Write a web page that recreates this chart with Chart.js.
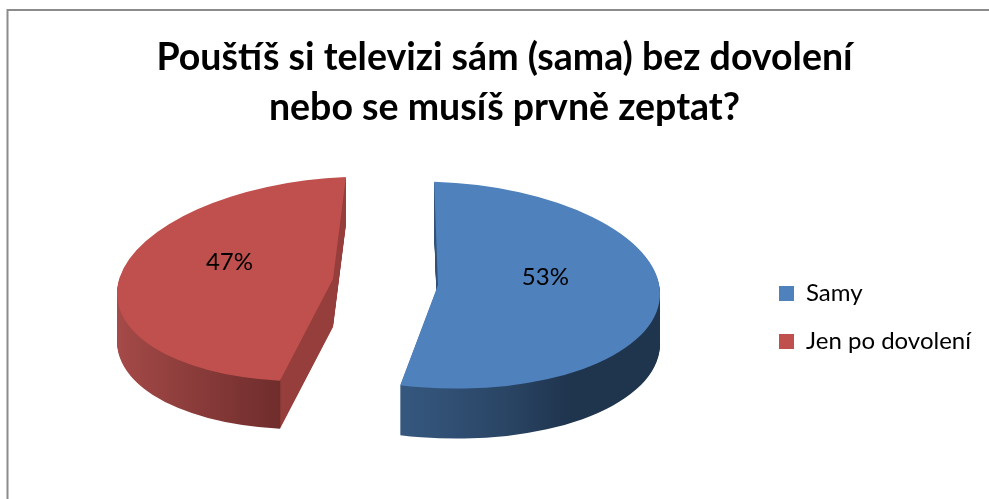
<!DOCTYPE html>
<html>
<head>
<meta charset="utf-8">
<style>
  html, body { margin: 0; padding: 0; background: #fff; overflow: hidden; }
  canvas { display: block; }
</style>
<script src="https://cdn.jsdelivr.net/npm/chart.js@4"></script>
</head>
<body>
<canvas id="pie" width="989" height="499"></canvas>
<script>
const categories = ['Samy', 'Jen po dovolení'];
const values = [53, 47];
const titleLines = ['Pouštíš si televizi sám (sama) bez dovolení', 'nebo se musíš prvně zeptat?'];
const topColors = ['#4f81bd', '#c0504d'];
// wall shading along x, relative to the chart centre, as a fraction of the radius
const wallStops = [
  [[-0.17, '#36587f'], [0.3, '#2a4565'], [0.6, '#1f344d'], [1, '#1f344d']],
  [[-1, '#a64b49'], [-0.171, '#6f2d2c'], [-0.168, '#953e3c'], [1, '#953e3c']]
];

// fake 3D: each slice gets its own tilt and is pushed away from the pie centre
const pieX = 387, pieY = 281;
const tilts = [
  { a: 1, b: 0.04, c: 0, d: 0.465, moveX: 51, moveY: 4, depth: 50 },
  { a: 0.97, b: -0.03, c: -0.075, d: 0.46, moveX: -54, moveY: -2, depth: 48 }
];
const legendShiftX = -8, legendShiftY = 68;
const labelLift = 16, labelPos = 0.485;

function applyTilt(ctx, arc, t) {
  ctx.transform(t.a, t.b, t.c, t.d,
    pieX + t.moveX - t.a * arc.x - t.c * arc.y,
    pieY + t.moveY - t.b * arc.x - t.d * arc.y);
}

function wallGradient(ctx, arc, stops) {
  const r = arc.outerRadius;
  const g = ctx.createLinearGradient(arc.x - r, 0, arc.x + r, 0);
  stops.forEach(([pos, color]) => g.addColorStop((pos + 1) / 2, color));
  return g;
}

const pie3d = {
  id: 'pie3d',
  beforeDraw(chart) {
    const ctx = chart.ctx;
    ctx.save();
    ctx.strokeStyle = '#8c8c8c';
    ctx.lineWidth = 2;
    ctx.strokeRect(7.5, 10, 1100, 800);
    ctx.restore();
    chart.legend.left += legendShiftX;
    chart.legend.right += legendShiftX;
    chart.legend.top += legendShiftY;
    chart.legend.bottom += legendShiftY;
  },
  beforeDatasetDraw(chart) {
    const ctx = chart.ctx;
    const arcs = chart.getDatasetMeta(0).data;
    arcs.forEach((arc, i) => {
      const t = tilts[i];
      const top = arc.options;
      arc.options = { ...top, backgroundColor: wallGradient(ctx, arc, wallStops[i]) };
      for (let d = t.depth; d > 0; d--) {
        ctx.save();
        ctx.translate(0, d);
        applyTilt(ctx, arc, t);
        arc.draw(ctx);
        ctx.restore();
      }
      arc.options = top;
      ctx.save();
      applyTilt(ctx, arc, t);
      arc.draw(ctx);
      ctx.restore();
    });
    ctx.save();
    ctx.font = '24px Lato';
    ctx.fillStyle = '#000';
    ctx.textAlign = 'center';
    ctx.textBaseline = 'middle';
    arcs.forEach((arc, i) => {
      const t = tilts[i];
      const mid = (arc.startAngle + arc.endAngle) / 2;
      const rx = Math.cos(mid) * arc.outerRadius * labelPos;
      const ry = Math.sin(mid) * arc.outerRadius * labelPos;
      const x = pieX + t.moveX + t.a * rx + t.c * ry;
      const y = pieY + t.moveY + t.b * rx + t.d * ry;
      ctx.fillText(values[i] + '%', x, y - labelLift);
    });
    ctx.restore();
    return false;
  }
};

new Chart(document.getElementById('pie'), {
  type: 'pie',
  plugins: [pie3d],
  data: {
    labels: categories,
    datasets: [{ data: values, backgroundColor: topColors, borderWidth: 0, clip: false }]
  },
  options: {
    responsive: false,
    animation: false,
    devicePixelRatio: 1,
    radius: 222,
    rotation: -1,
    layout: { padding: { left: 20, right: 0, top: 0, bottom: 0 } },
    plugins: {
      tooltip: { enabled: false },
      title: {
        display: true,
        text: titleLines,
        color: '#000',
        font: { family: 'Lato', weight: 'bold', size: 37.5, lineHeight: 50 / 37.5 },
        padding: { top: 33, bottom: 37 }
      },
      legend: {
        position: 'right',
        labels: {
          color: '#000',
          font: { family: 'Lato', size: 24 },
          boxWidth: 15,
          boxHeight: 15,
          padding: 24
        }
      }
    }
  }
});
</script>
</body>
</html>
